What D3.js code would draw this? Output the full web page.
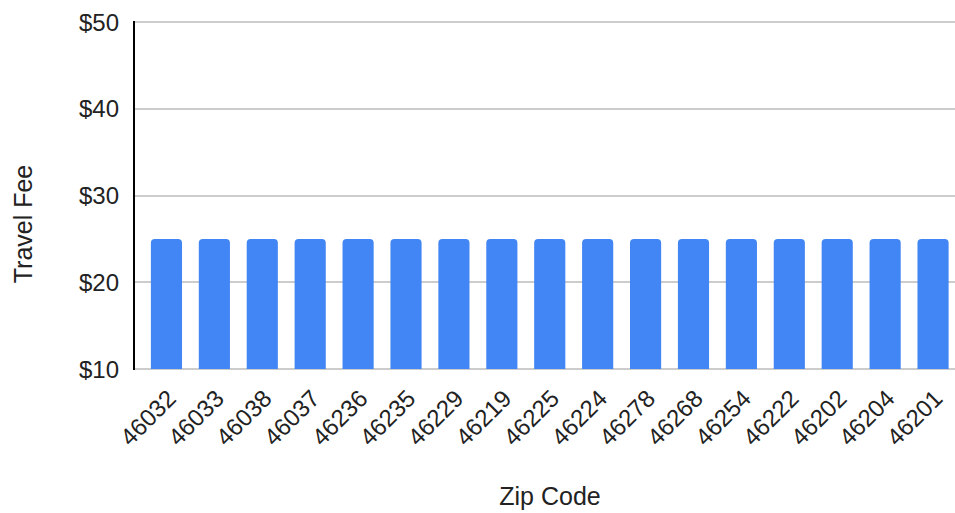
<!DOCTYPE html>
<html>
<head>
<meta charset="utf-8">
<script src="https://cdn.jsdelivr.net/npm/d3@7"></script>
<style>
  body { margin: 0; background: #fff; }
  text { font-family: "Liberation Sans", Arial, sans-serif; fill: #222; }
</style>
</head>
<body>
<div id="chart"></div>
<script>
// zip codes and fee per zip
var zipCodes = ["46032", "46033", "46038", "46037", "46236", "46235", "46229", "46219", "46225",
                "46224", "46278", "46268", "46254", "46222", "46202", "46204", "46201"];
var fees = [25, 25, 25, 25, 25, 25, 25, 25, 25, 25, 25, 25, 25, 25, 25, 25, 25];
var yTicks = [10, 20, 30, 40, 50];

var width = 955, height = 513;
var plotLeft = 134, plotRight = 955, plotTop = 22, plotBottom = 369;

var svg = d3.select("#chart")
    .append("svg")
    .attr("width", width)
    .attr("height", height);

var x = d3.scaleBand()
    .domain(zipCodes)
    .range([142.5, 957])
    .paddingInner(0.35)
    .paddingOuter(0.175);

var y = d3.scaleLinear()
    .domain([10, 50])
    .range([plotBottom, plotTop]);

////////// grid //////////
svg.append("g")
  .selectAll("line")
    .data(yTicks)
    .enter()
    .append("line")
    .attr("x1", plotLeft)
    .attr("x2", plotRight)
    .attr("y1", function(d) { return Math.round(y(d)); })
    .attr("y2", function(d) { return Math.round(y(d)); })
    .attr("stroke", "#cccccc")
    .attr("stroke-width", 2);

////////// bars //////////
var data = zipCodes.map(function(z, i) { return {zip: z, fee: fees[i]}; });

svg.append("g")
  .selectAll("path")
    .data(data)
    .enter()
    .append("path")
    .attr("fill", "#4285f4")
    .attr("d", function(d) {
      var x0 = x(d.zip), w = x.bandwidth(), y0 = y(d.fee), y1 = y(10), r = 4;
      return "M" + x0 + "," + y1 +
             "V" + (y0 + r) +
             "Q" + x0 + "," + y0 + " " + (x0 + r) + "," + y0 +
             "H" + (x0 + w - r) +
             "Q" + (x0 + w) + "," + y0 + " " + (x0 + w) + "," + (y0 + r) +
             "V" + y1 + "Z";
    });

////////// axes //////////
svg.append("line")
    .attr("x1", plotLeft)
    .attr("x2", plotLeft)
    .attr("y1", plotTop - 1)
    .attr("y2", plotBottom + 1)
    .attr("stroke", "#000")
    .attr("stroke-width", 2);

svg.append("g")
  .selectAll("text")
    .data(yTicks)
    .enter()
    .append("text")
    .attr("x", 119)
    .attr("y", function(d) { return y(d); })
    .attr("dy", "0.36em")
    .attr("text-anchor", "end")
    .style("font-size", "24px")
    .text(function(d) { return "$" + d; });

svg.append("g")
  .selectAll("text")
    .data(zipCodes)
    .enter()
    .append("text")
    .attr("text-anchor", "end")
    .style("font-size", "24px")
    .attr("transform", function(d) {
      return "translate(" + (x(d) + x.bandwidth() / 2 + 11) + "," + 400 + ") rotate(-45)";
    })
    .text(function(d) { return d; });

svg.append("text")
    .attr("text-anchor", "middle")
    .attr("transform", "translate(32,224) rotate(-90)")
    .style("font-size", "25px")
    .text("Travel Fee");

svg.append("text")
    .attr("x", 550)
    .attr("y", 505)
    .attr("text-anchor", "middle")
    .style("font-size", "25px")
    .text("Zip Code");
</script>
</body>
</html>
